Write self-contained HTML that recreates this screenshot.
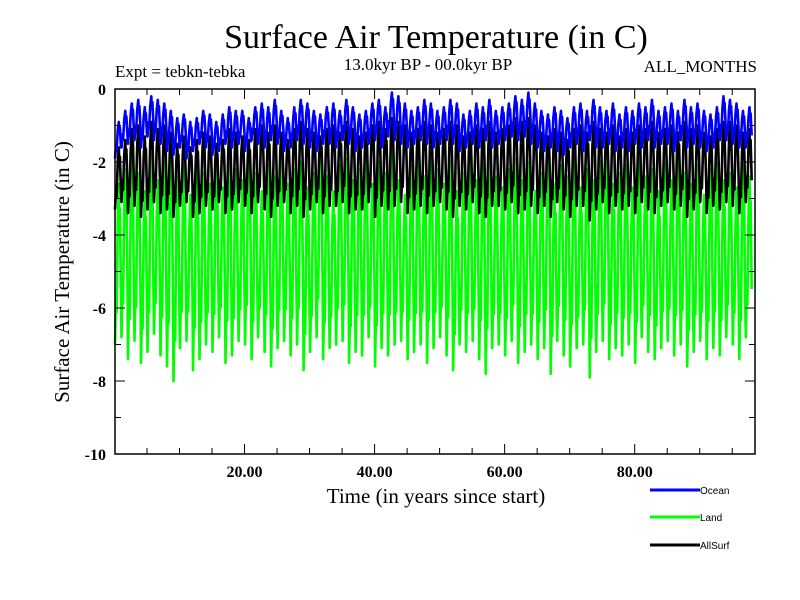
<!DOCTYPE html>
<html><head><meta charset="utf-8">
<style>
body{margin:0;background:#fff;}
svg{display:block;font-family:"Liberation Serif",serif;}
</style></head>
<body>
<svg id="chart" width="800" height="600" xmlns="http://www.w3.org/2000/svg">
<rect width="800" height="600" fill="#fff"/>
<text x="436" y="48" font-size="34" text-anchor="middle">Surface Air Temperature (in C)</text>
<text x="115" y="77" font-size="17">Expt = tebkn-tebka</text>
<text x="428" y="70" font-size="17" text-anchor="middle">13.0kyr BP - 00.0kyr BP</text>
<text x="757" y="72" font-size="17" text-anchor="end">ALL_MONTHS</text>
<g id="plot"></g>
<g id="axes"></g>
<text x="436" y="503" font-size="21" text-anchor="middle">Time (in years since start)</text>
<text transform="translate(69,272) rotate(-90)" font-size="21" text-anchor="middle">Surface Air Temperature (in C)</text>
<g font-family="Liberation Sans,sans-serif" font-size="10">
<g><line x1="650" y1="490" x2="700" y2="490" stroke="#0000ff" stroke-width="3"/><text x="700" y="494">Ocean</text></g>
<g><line x1="650" y1="517" x2="700" y2="517" stroke="#00ff00" stroke-width="3"/><text x="700" y="521">Land</text></g>
<g><line x1="650" y1="545" x2="700" y2="545" stroke="#000" stroke-width="3"/><text x="700" y="549">AllSurf</text></g>
</g>
</svg>
<script>
const xTickLabels=["20.00","40.00","60.00","80.00"];
const xTickValues=[20,40,60,80];
const yTickValues=[0,-2,-4,-6,-8,-10];
const landMax=[-2.6,-2.2,-1.9,-2.3,-2.8,-1.8,-2.5,-2.0,-1.7,-2.4,-2.1,-2.9,-1.9,-2.3,-2.6,-2.0,-2.7,-1.8,-2.2,-2.5,-1.6,-2.3,-2.8,-2.1,-2.4,-1.9,-2.6,-2.2,-2.0,-2.7,-2.3,-1.5,-2.4,-2.8,-2.1,-1.9,-2.5,-2.2,-1.8,-2.6,-2.0,-2.3,-1.7,-2.5,-2.9,-2.1,-1.9,-2.4,-1.7,-2.2,-2.6,-2.0,-2.8,-2.3,-1.9,-2.5,-2.1,-1.6,-2.4,-2.7,-2.2,-1.9,-2.5,-2.0,-2.8,-2.3,-1.8,-2.6,-2.1,-2.4,-1.9,-2.7,-2.2,-2.5,-2.0,-1.8,-2.6,-2.3,-2.1,-2.7,-1.9,-2.4,-2.2,-2.8,-2.0,-2.5,-1.8,-2.3,-2.6,-2.1,-2.9,-2.2,-2.0,-2.5,-2.3,-2.7,-2.1,-2.4];
const landMin=[-7.0,-6.8,-7.4,-6.9,-7.5,-7.2,-6.7,-7.3,-7.6,-8.0,-7.1,-6.9,-7.7,-7.4,-7.0,-7.2,-6.8,-7.5,-7.3,-6.9,-7.0,-7.4,-6.8,-7.2,-7.6,-7.1,-6.9,-7.3,-7.0,-7.7,-7.2,-6.8,-7.4,-7.1,-7.0,-6.9,-7.5,-7.2,-7.3,-6.8,-7.6,-7.1,-7.3,-7.0,-6.9,-7.4,-7.2,-7.0,-7.5,-7.1,-6.8,-7.3,-7.7,-7.0,-7.2,-6.9,-7.4,-7.8,-7.1,-7.0,-7.3,-6.9,-7.5,-7.2,-7.0,-7.4,-7.1,-7.8,-6.9,-7.3,-7.6,-7.1,-7.0,-7.9,-7.2,-6.9,-7.4,-7.1,-7.3,-7.0,-7.5,-6.8,-7.2,-7.4,-7.1,-6.9,-7.3,-7.0,-7.6,-7.2,-6.9,-7.4,-7.1,-7.3,-6.8,-7.0,-7.4,-6.8];
const oceanMax=[-0.9,-0.6,-0.4,-0.3,-0.5,-0.2,-0.3,-0.4,-0.6,-0.8,-0.7,-0.9,-0.8,-0.6,-0.7,-0.9,-0.7,-0.5,-0.6,-0.6,-0.8,-0.5,-0.4,-0.5,-0.3,-0.6,-0.8,-0.5,-0.3,-0.4,-0.6,-0.7,-0.5,-0.4,-0.6,-0.3,-0.5,-0.7,-0.6,-0.4,-0.3,-0.5,-0.1,-0.2,-0.4,-0.6,-0.5,-0.3,-0.4,-0.6,-0.5,-0.3,-0.4,-0.7,-0.6,-0.4,-0.5,-0.3,-0.6,-0.5,-0.4,-0.2,-0.3,-0.1,-0.4,-0.6,-0.7,-0.5,-0.6,-0.8,-0.5,-0.4,-0.6,-0.3,-0.5,-0.6,-0.4,-0.7,-0.5,-0.6,-0.4,-0.5,-0.3,-0.6,-0.5,-0.4,-0.6,-0.3,-0.5,-0.4,-0.6,-0.7,-0.5,-0.2,-0.3,-0.4,-0.6,-0.5];
const oceanMin=[-1.9,-1.6,-1.5,-1.4,-1.6,-1.3,-1.4,-1.5,-1.7,-1.8,-1.6,-1.9,-1.7,-1.5,-1.6,-1.8,-1.7,-1.5,-1.6,-1.5,-1.7,-1.4,-1.5,-1.6,-1.4,-1.5,-1.7,-1.6,-1.4,-1.5,-1.6,-1.7,-1.5,-1.5,-1.6,-1.4,-1.5,-1.7,-1.6,-1.5,-1.4,-1.6,-1.3,-1.4,-1.5,-1.6,-1.5,-1.4,-1.5,-1.6,-1.5,-1.4,-1.5,-1.7,-1.6,-1.5,-1.6,-1.4,-1.6,-1.5,-1.4,-1.3,-1.4,-1.3,-1.5,-1.6,-1.7,-1.6,-1.7,-1.8,-1.6,-1.5,-1.7,-1.4,-1.6,-1.6,-1.5,-1.7,-1.6,-1.7,-1.5,-1.6,-1.4,-1.6,-1.5,-1.5,-1.7,-1.4,-1.6,-1.5,-1.6,-1.7,-1.6,-1.4,-1.4,-1.5,-1.6,-1.6];
const allMax=[-1.6,-1.4,-1.1,-1.0,-1.3,-0.9,-1.1,-1.0,-1.2,-1.5,-1.3,-1.6,-1.4,-1.2,-1.3,-1.5,-1.4,-1.1,-1.2,-1.3,-1.4,-1.1,-1.0,-1.2,-1.0,-1.2,-1.4,-1.1,-0.9,-1.1,-1.2,-1.3,-1.1,-1.0,-1.2,-0.9,-1.1,-1.3,-1.2,-1.0,-0.9,-1.1,-0.8,-0.9,-1.0,-1.2,-1.1,-0.9,-1.0,-1.2,-1.1,-0.9,-1.0,-1.3,-1.2,-1.0,-1.1,-0.9,-1.2,-1.1,-1.0,-0.8,-0.9,-0.8,-1.0,-1.2,-1.3,-1.1,-1.2,-1.4,-1.1,-1.0,-1.2,-0.9,-1.1,-1.2,-1.0,-1.3,-1.1,-1.2,-1.0,-1.1,-0.9,-1.2,-1.1,-1.0,-1.2,-0.9,-1.1,-1.0,-1.2,-1.3,-1.1,-0.9,-0.9,-1.0,-1.2,-1.1];
const allMin=[-3.3,-3.1,-3.4,-3.2,-3.5,-3.3,-3.1,-3.4,-3.3,-3.5,-3.2,-3.1,-3.5,-3.4,-3.2,-3.3,-3.1,-3.4,-3.3,-3.1,-3.2,-3.4,-3.1,-3.3,-3.5,-3.2,-3.1,-3.4,-3.2,-3.5,-3.3,-3.1,-3.4,-3.2,-3.2,-3.1,-3.4,-3.3,-3.3,-3.1,-3.5,-3.2,-3.3,-3.2,-3.1,-3.4,-3.3,-3.2,-3.4,-3.2,-3.1,-3.3,-3.5,-3.2,-3.3,-3.1,-3.4,-3.5,-3.2,-3.2,-3.3,-3.1,-3.4,-3.3,-3.2,-3.4,-3.2,-3.5,-3.1,-3.3,-3.5,-3.2,-3.2,-3.6,-3.3,-3.1,-3.4,-3.2,-3.3,-3.2,-3.4,-3.1,-3.3,-3.4,-3.2,-3.1,-3.3,-3.2,-3.5,-3.3,-3.1,-3.4,-3.2,-3.3,-3.1,-3.2,-3.4,-3.1];

const X0=115,X1=755,Y0=89,Y1=454,xMin=0.08,xMax=98.5,yMin=-10,yMax=0;
const xs=v=>X0+(v-xMin)/(xMax-xMin)*(X1-X0);
const ys=v=>Y1-(v-yMin)/(yMax-yMin)*(Y1-Y0);
const NS="http://www.w3.org/2000/svg";
const plot=document.getElementById('plot'),axes=document.getElementById('axes');
function mk(tag,attrs,parent){const e=document.createElementNS(NS,tag);for(const k in attrs)e.setAttribute(k,attrs[k]);parent.appendChild(e);return e;}
const prof=[[0,0],[0.17,0.35],[0.25,0.2],[0.42,0.75],[0.58,1],[0.67,0.7],[0.75,0.85],[0.92,0.3]];
function series(mins,maxs,color,name){
  let pts=[];
  for(let i=0;i<mins.length;i++){
    for(const p of prof){
      const t=i+p[0]+0.08;
      if(t>xMax)break;
      pts.push(xs(t).toFixed(1)+","+ys(mins[i]+(maxs[i]-mins[i])*p[1]).toFixed(1));
    }
  }
  const pl=mk('polyline',{points:pts.join(" "),fill:"none",stroke:color,"stroke-width":2.6,"stroke-linejoin":"round"},plot);
  
  
}
series(landMin,landMax,"#00ff00","land-series");
series(allMin,allMax,"#000000","allsurf-series");
series(oceanMin,oceanMax,"#0000ff","ocean-series");

mk('rect',{x:X0,y:Y0,width:X1-X0,height:Y1-Y0,fill:"none",stroke:"#000","stroke-width":1.5},axes);
for(let v=5;v<xMax;v+=5){
  const x=xs(v),L=(v%20===0)?10:6;
  mk('line',{x1:x,y1:Y1,x2:x,y2:Y1-L,stroke:"#000"},axes);
  mk('line',{x1:x,y1:Y0,x2:x,y2:Y0+L,stroke:"#000"},axes);
}
xTickValues.forEach((v,i)=>{
  const t=mk('text',{x:xs(v),y:477,"font-size":16,"text-anchor":"middle","font-weight":"bold"},axes);
  t.textContent=xTickLabels[i];
  
  
});
for(let v=-1;v>-10;v--){
  const y=ys(v),L=(v%2===0)?10:6;
  mk('line',{x1:X0,y1:y,x2:X0+L,y2:y,stroke:"#000"},axes);
  mk('line',{x1:X1,y1:y,x2:X1-L,y2:y,stroke:"#000"},axes);
}
yTickValues.forEach(v=>{
  const t=mk('text',{x:106,y:ys(v)+6,"font-size":16,"text-anchor":"end","font-weight":"bold"},axes);
  t.textContent=String(v);
  
  
});
</script>
</body></html>
